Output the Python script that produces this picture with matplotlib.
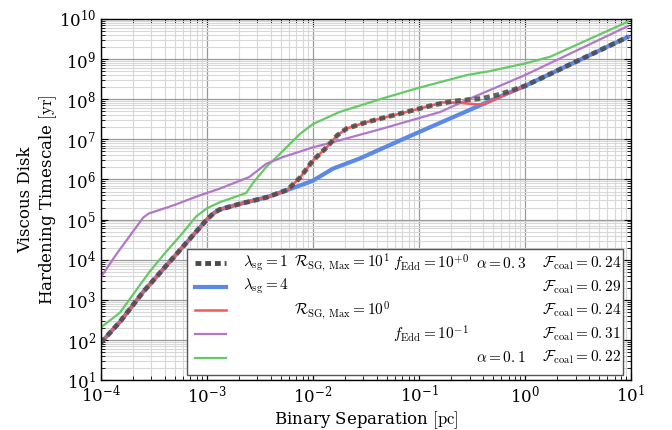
import matplotlib
matplotlib.use("Agg")
import matplotlib.pyplot as plt
import numpy as np
from matplotlib.lines import Line2D

plt.rcParams["font.family"] = "DejaVu Serif"
plt.rcParams["mathtext.fontset"] = "cm"

# log10(separation [pc]) and log10(timescale [yr])
x_lam1 = [-4.0, -3.82, -3.6, -3.35, -3.15, -3.05, -3.0, -2.94, -2.88, -2.69, -2.43, -2.24, -2.12, -2.0,
          -1.87, -1.77, -1.68, -1.49, -1.18, -0.87, -0.68, -0.40, -0.24, 0.0, 0.97]
y_lam1 = [1.93, 2.45, 3.2, 3.95, 4.55, 4.85, 5.0, 5.15, 5.25, 5.39, 5.56, 5.74, 6.05, 6.47,
          6.80, 7.10, 7.27, 7.43, 7.64, 7.85, 7.95, 8.02, 8.12, 8.33, 9.55]

x_lam4 = [-4.0, -3.82, -3.6, -3.35, -3.15, -3.05, -3.0, -2.94, -2.88, -2.69, -2.43, -2.24, -2.12, -2.0,
          -1.81, -1.56, -1.18, -0.87, -0.55, -0.24, 0.0, 0.97]
y_lam4 = [1.93, 2.45, 3.2, 3.95, 4.55, 4.85, 5.0, 5.15, 5.25, 5.39, 5.56, 5.74, 5.85, 5.97,
          6.27, 6.52, 6.97, 7.33, 7.70, 8.06, 8.33, 9.55]

x_rsg = [-4.0, -3.82, -3.6, -3.35, -3.15, -3.05, -3.0, -2.94, -2.88, -2.69, -2.43, -2.24, -2.12, -2.0,
         -1.87, -1.77, -1.68, -1.49, -1.18, -0.87, -0.78, -0.62, -0.45, -0.38, -0.24, 0.0]
y_rsg = [1.93, 2.45, 3.2, 3.95, 4.55, 4.85, 5.0, 5.15, 5.25, 5.39, 5.56, 5.74, 6.05, 6.47,
         6.80, 7.10, 7.27, 7.43, 7.64, 7.85, 7.92, 7.91, 7.87, 7.88, 8.05, 8.33]

x_fedd = [-4.0, -3.85, -3.6, -3.55, -3.32, -3.07, -2.88, -2.6, -2.44, -2.28, -2.0,
          -1.81, -1.34, -0.80, -0.55, 0.0, 0.97]
y_fedd = [3.56, 4.15, 5.05, 5.15, 5.35, 5.60, 5.77, 6.06, 6.39, 6.56, 6.80,
          6.93, 7.27, 7.68, 7.98, 8.60, 9.82]

x_alpha = [-4.0, -3.82, -3.54, -3.4, -3.25, -3.1, -3.0, -2.88, -2.63, -2.56, -2.44, -2.31, -2.12,
           -2.0, -1.75, -1.34, -1.02, -0.55, -0.33, 0.0, 0.24, 0.97]
y_alpha = [2.31, 2.68, 3.70, 4.15, 4.60, 5.08, 5.28, 5.43, 5.66, 5.93, 6.31, 6.64, 7.14,
           7.38, 7.68, 8.02, 8.27, 8.60, 8.70, 8.89, 9.06, 9.93]

lam_labels = [r"$\lambda_{\rm sg} = 1$", r"$\lambda_{\rm sg} = 4$", "", "", ""]
rsg_labels = [r"$\mathcal{R}_{\rm SG,\,Max} = 10^{1}$", "", r"$\mathcal{R}_{\rm SG,\,Max} = 10^{0}$", "", ""]
fedd_labels = [r"$f_{\rm Edd} = 10^{+0}$", "", "", r"$f_{\rm Edd} = 10^{-1}$", ""]
alpha_labels = [r"$\alpha = 0.{}3$", "", "", "", r"$\alpha = 0.{}1$"]
fcoal_labels = [r"$\mathcal{F}_{\rm coal} = 0.{}24$", r"$\mathcal{F}_{\rm coal} = 0.{}29$",
                r"$\mathcal{F}_{\rm coal} = 0.{}24$", r"$\mathcal{F}_{\rm coal} = 0.{}31$",
                r"$\mathcal{F}_{\rm coal} = 0.{}22$"]

c_black = "#4a4a4a"
c_blue = "#5c88e8"
c_red = "#f05a5a"
c_purple = "#b277c9"
c_green = "#66c966"

fig = plt.figure(figsize=(6.72, 4.3), dpi=100)
ax = fig.add_axes([0.150, 0.116, 0.789, 0.840])

ax.plot(10**np.array(x_alpha), 10**np.array(y_alpha), color=c_green, lw=1.6)
ax.plot(10**np.array(x_fedd), 10**np.array(y_fedd), color=c_purple, lw=1.6)
ax.plot(10**np.array(x_lam4), 10**np.array(y_lam4), color=c_blue, lw=3.0)
ax.plot(10**np.array(x_rsg), 10**np.array(y_rsg), color=c_red, lw=1.8)
ax.plot(10**np.array(x_lam1), 10**np.array(y_lam1), color=c_black, lw=3.5, ls=(0, (1.2, 0.8)), alpha=0.85)

ax.set_xscale("log")
ax.set_yscale("log")
ax.set_xlim(1e-4, 1e1)
ax.set_ylim(1e1, 1e10)

ax.grid(which="major", color="#999999", lw=0.9)
ax.grid(which="minor", color="#d8d8d8", lw=0.8)
ax.set_axisbelow(True)
ax.tick_params(which="both", direction="in", top=True, right=True, labelsize=12)
ax.tick_params(which="major", length=5)
ax.tick_params(which="minor", length=3)
ax.yaxis.set_major_locator(matplotlib.ticker.LogLocator(base=10, numticks=12))
ax.yaxis.set_minor_locator(matplotlib.ticker.LogLocator(base=10, subs=np.arange(2, 10), numticks=12))
for s in ax.spines.values():
    s.set_linewidth(1.0)

ax.set_xlabel(r"Binary Separation $[\mathrm{pc}]$", fontsize=12, labelpad=2)
ax.set_ylabel("Viscous Disk\nHardening Timescale " + r"$[\mathrm{yr}]$", fontsize=12)
ax.yaxis.set_label_coords(-0.079, 0.5)

handles = [Line2D([], [], color=c_black, lw=3.5, ls=(0, (1.2, 0.8))),
           Line2D([], [], color=c_blue, lw=3.0),
           Line2D([], [], color=c_red, lw=1.8),
           Line2D([], [], color=c_purple, lw=1.6),
           Line2D([], [], color=c_green, lw=1.6)]
# legend only holds the line samples; the parameter columns are written next to them
leg = ax.legend(handles, [""] * 5, loc="lower left", bbox_to_anchor=(0.162, 0.014, 0.823, 0.35),
                mode="expand", fontsize=11, frameon=True, fancybox=False, edgecolor="#555555",
                framealpha=1.0, handlelength=2.0, handletextpad=0.5, handleheight=1.0,
                labelspacing=0.56, borderpad=0.55, borderaxespad=0)
leg.get_frame().set_linewidth(1.0)

fig.canvas.draw()
r = fig.canvas.get_renderer()
inv = ax.transAxes.inverted()
col_x = [0.268, 0.364, 0.551, 0.708, 0.832]
cols = [lam_labels, rsg_labels, fedd_labels, alpha_labels, fcoal_labels]
for i, h in enumerate(leg.legend_handles):
    bb = h.get_window_extent(r)
    yc = inv.transform((0, (bb.y0 + bb.y1) / 2))[1]
    for cx, labs in zip(col_x, cols):
        if labs[i]:
            ax.text(cx, yc, labs[i], transform=ax.transAxes, fontsize=11, va="center", ha="left", zorder=10)

fig.savefig("out.png", dpi=100)
